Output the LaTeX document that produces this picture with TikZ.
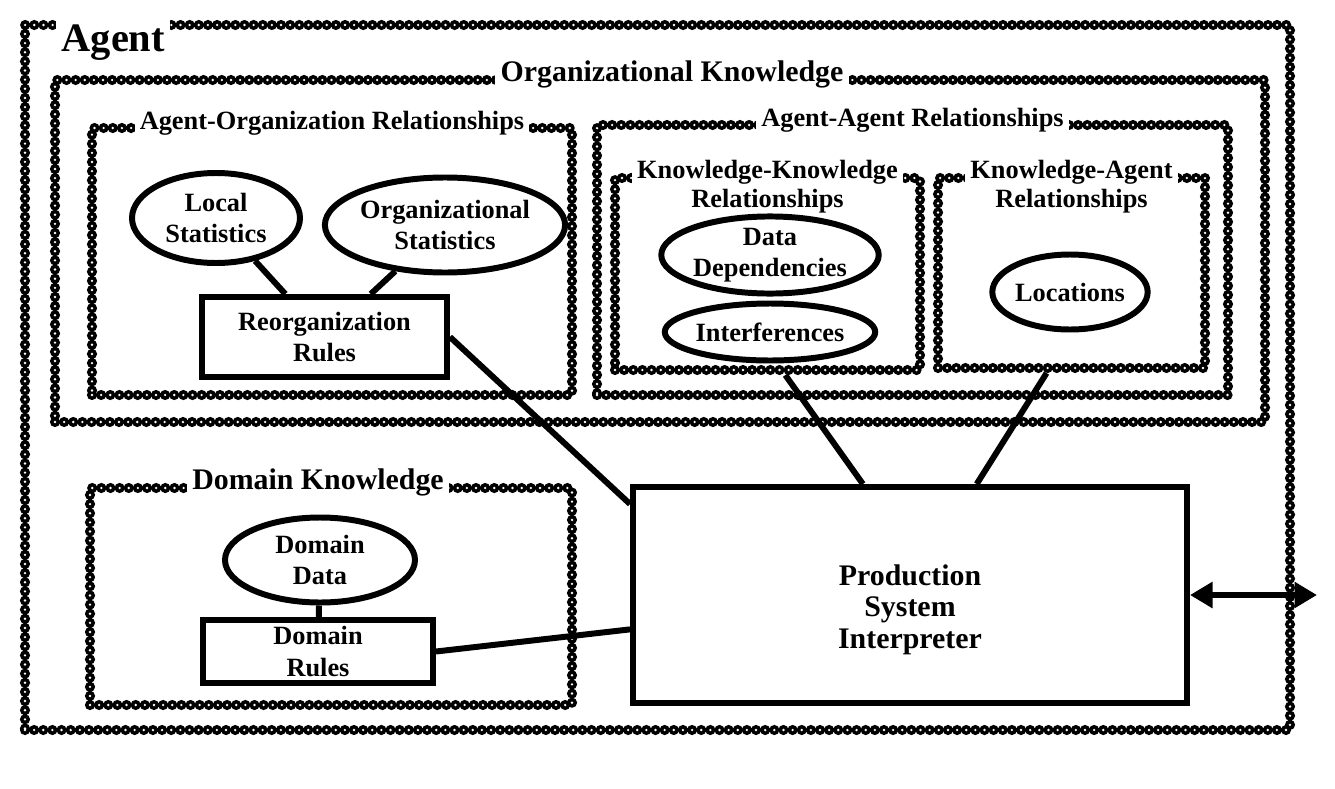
\documentclass[tikz,border=0pt]{standalone}
\usepackage{fontspec}
\setmainfont{Liberation Serif}
\usepackage{tikz}
\usetikzlibrary{arrows.meta,positioning,shapes}

\begin{document}
\begin{tikzpicture}[
  frame/.style={rectangle, draw, inner sep=0pt, line width=5.8pt, line cap=round,
    dash pattern=on 0pt off 5.2pt,
    postaction={draw=white, line width=1.5pt, line cap=round, dash pattern=on 0pt off 5.2pt}},
  title/.style={fill=white, inner sep=3pt, align=center, font=\fontsize{15}{16.5}\selectfont\bfseries},
  bigtitle/.style={title, font=\fontsize{17}{20}\selectfont\bfseries},
  blob/.style={ellipse, draw, line width=3.4pt, inner sep=0pt, align=center, font=\fontsize{15}{18}\selectfont\bfseries},
  rules/.style={rectangle, draw, line width=3.4pt, inner sep=0pt, align=center, font=\fontsize{15}{18}\selectfont\bfseries},
  link/.style={line width=3.4pt}
]
  \useasboundingbox (0,0) rectangle (26.7,-15.76);
  \node[frame, minimum width=25.3cm, minimum height=14.1cm] (agent) at (13.15,-7.55) {};
  \node[frame, minimum width=24.2cm, minimum height=6.84cm] (org) at (13.2,-5.02) {};
  \node[frame, minimum width=9.6cm, minimum height=5.34cm] (ao) at (6.64,-5.23) {};
  \node[frame, minimum width=12.62cm, minimum height=5.4cm] (aa) at (18.25,-5.2) {};
  \node[frame, minimum width=6.1cm, minimum height=3.84cm] (kk) at (15.35,-5.48) {};
  \node[frame, minimum width=5.34cm, minimum height=3.8cm] (ka) at (21.43,-5.46) {};
  \node[frame, minimum width=9.64cm, minimum height=4.34cm] (dk) at (6.62,-11.93) {};
  \node[title, anchor=north west, font=\fontsize{23}{26}\selectfont\bfseries] (agentt) at (1.12,-0.38) {Agent};
  \node[bigtitle] (orgt) at ([xshift=0.24cm]org.north) {Organizational Knowledge};
  \node[title] (aot) at (ao.north) {Agent-Organization Relationships};
  \node[title] (aat) at (aa.north) {Agent-Agent Relationships};
  \node[title, anchor=north] (kkt) at ([yshift=0.36cm]kk.north) {Knowledge-Knowledge\\Relationships};
  \node[title, anchor=north] (kat) at ([yshift=0.36cm]ka.north) {Knowledge-Agent\\Relationships};
  \node[bigtitle] (dkt) at ([xshift=-0.26cm]dk.north) {Domain Knowledge};
  \node[blob, minimum width=3.36cm, minimum height=1.8cm] (ls) at (4.32,-4.36) {Local\\Statistics};
  \node[blob, minimum width=3.9cm, minimum height=1.9cm] (os) at (8.9,-4.5) {Organizational\\Statistics};
  \node[rules, minimum width=4.9cm, minimum height=1.6cm] (rr) at (6.49,-6.74) {Reorganization\\Rules};
  \node[blob, minimum width=4.1cm, minimum height=1.4cm] (dd) at (15.4,-5.1) {Data\\Dependencies};
  \node[blob, minimum width=4.1cm, minimum height=1.14cm] (intf) at (15.4,-6.64) {Interferences};
  \node[blob, minimum width=2.92cm, minimum height=1.5cm] (loc) at (21.4,-5.84) {Locations};
  \node[blob, minimum width=3.8cm, minimum height=1.7cm] (ddata) at (6.4,-11.2) {Domain\\Data};
  \node[rules, minimum width=4.6cm, minimum height=1.26cm] (dr) at (6.36,-13.03) {Domain\\Rules};
  \node[rules, font=\fontsize{17}{18}\selectfont\bfseries, minimum width=11.08cm, minimum height=4.32cm] (prod) at (18.2,-11.9) {\rule{0pt}{1cm}Production\\System\\Interpreter};
  \coordinate (ext) at (26.34,-11.9);
  \draw[link] (ls) -- (rr);
  \draw[link] (os) -- (rr);
  \draw[link] (rr.east) -- (prod.162);
  \draw[link] (ddata) -- (dr);
  \draw[link] (dr.east) -- (prod.187);
  \draw[link] (kk.-80) -- (prod.113);
  \draw[link] (ka.-104) -- (prod.59);
  \draw[link, {Triangle[length=0.45cm,width=0.5cm]}-{Triangle[length=0.45cm,width=0.5cm]}] (prod.east) -- (ext);
\end{tikzpicture}
\end{document}
